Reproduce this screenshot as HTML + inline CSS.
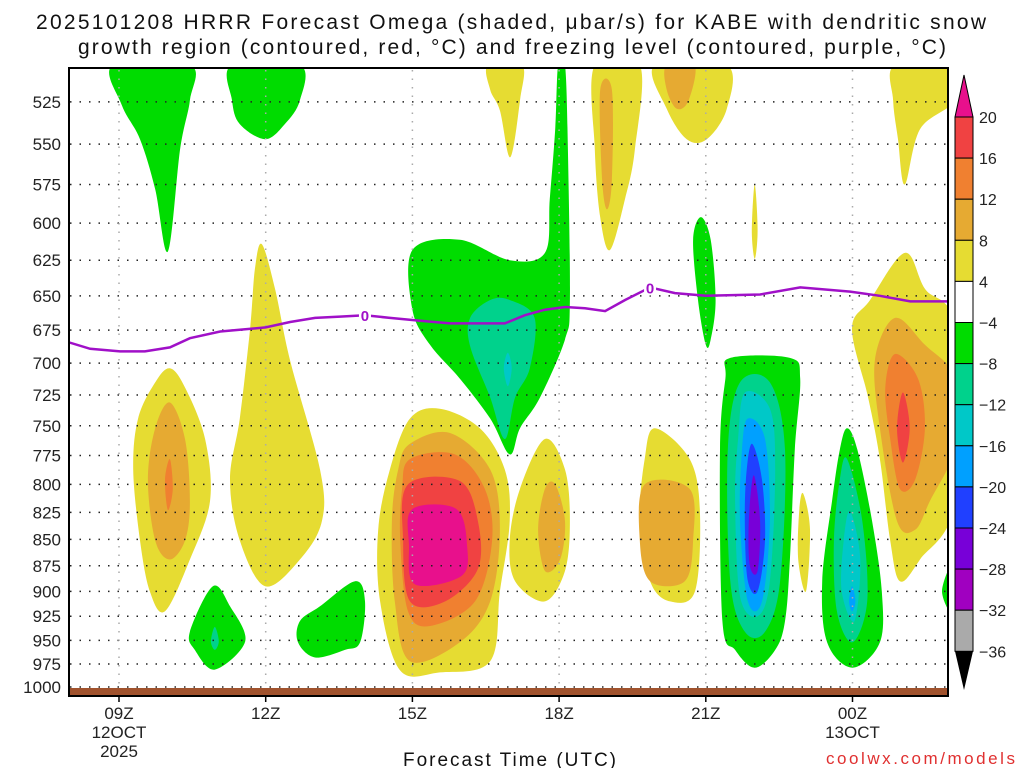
<!DOCTYPE html>
<html><head><meta charset="utf-8">
<style>
html,body{margin:0;padding:0;background:#fff;}
body{width:1024px;height:768px;overflow:hidden;font-family:"Liberation Sans","DejaVu Sans",sans-serif;}
svg text{font-family:"Liberation Sans","DejaVu Sans",sans-serif;}
</style></head>
<body>
<svg id="chart" width="1024" height="768" viewBox="0 0 1024 768" xmlns="http://www.w3.org/2000/svg">
<text x="36" y="29" font-size="21" textLength="950" lengthAdjust="spacing" fill="#111">2025101208 HRRR Forecast Omega (shaded, μbar/s) for KABE with dendritic snow</text>
<text x="78" y="54" font-size="21" textLength="868" lengthAdjust="spacing" fill="#111">growth region (contoured, red, °C) and freezing level (contoured, purple, °C)</text>
<defs><clipPath id="plotclip"><rect x="69" y="68" width="879" height="628"/></clipPath></defs>
<g id="fills" clip-path="url(#plotclip)"></g>
<g id="grid"></g>
<g id="ground"></g>
<g id="frz" clip-path="url(#plotclip)"></g>
<rect x="69" y="68" width="879" height="628" fill="none" stroke="#000" stroke-width="2"/>
<g id="yaxis"></g>
<g id="xaxis"></g>
<text x="403" y="766" font-size="19" textLength="213" lengthAdjust="spacing" fill="#111">Forecast Time (UTC)</text>
<text x="826" y="764" font-size="17" textLength="189" lengthAdjust="spacing" fill="#e03030">coolwx.com/models</text>
<g id="cbar"></g>
</svg>
<script>
// ---- data ----
const pressureTicks = [525,550,575,600,625,650,675,700,725,750,775,800,825,850,875,900,925,950,975,1000];
const timeTicks = [9,12,15,18,21,24];
const timeLabels = ["09Z","12Z","15Z","18Z","21Z","00Z"];
const timeSubLabels = ["12OCT","","","","","13OCT"];
const timeSub2Labels = ["2025","","","","",""];
const cbarLevels = [20,16,12,8,4,-4,-8,-12,-16,-20,-24,-28,-32,-36];
const cbarColors = ["#f04242","#f08030","#e6aa32","#e6dc32","#ffffff","#00dc00","#00d28c","#00c8c8","#00a0ff","#2040ff","#7800d8","#a000c0","#aaaaaa"];
const levelColors = {p4:"#e6dc32",p8:"#e6aa32",p12:"#f08030",p16:"#f04242",p20:"#e8108c",
  n4:"#00dc00",n8:"#00d28c",n12:"#00c8c8",n16:"#00a0ff",n20:"#2040ff",n24:"#7800d8",n28:"#a000c0"};
// blobs: level + polygon in [hour, hPa]
const blobLevel = ["n4","n4","p4","p4","p8","p12","n4","n8","n4",
 "p4","p8","p12","p16","p20",
 "n4","n8","n12","p4","p4","p8","p4","p8","p4","p8","n4","p4","p4","p8",
 "n4","n8","n12","n16","n20","n24","p4",
 "n4","n8","n12","n16",
 "p4","p4","p8","p12","p16","n4"];
const blobShape = [
 [[8.88,504],[10.45,504],[10.45,524],[10.25,553],[10.0,619],[9.74,578],[9.43,547],[9.06,527]],
 [[11.31,504],[12.7,504],[12.7,524],[12.39,538],[11.99,547],[11.47,538],[11.31,524]],
 [[11.92,614],[12.19,645],[12.5,698],[13.11,787],[13.15,833],[12.7,869],[11.99,895],[11.47,851],[11.27,796],[11.47,744],[11.68,674],[11.78,631]],
 [[10.04,704],[10.35,719],[10.76,761],[10.86,815],[10.45,869],[9.94,920],[9.63,900],[9.43,851],[9.29,787],[9.39,744],[9.74,715]],
 [[10.04,731],[10.35,761],[10.45,815],[10.35,851],[10.04,869],[9.74,851],[9.59,796],[9.74,752]],
 [[10.04,778],[10.1,804],[10.0,823],[9.94,796]],
 [[10.92,895],[11.27,915],[11.58,951],[10.96,981],[10.55,960],[10.45,941]],
 [[10.96,936],[11.04,951],[10.96,960],[10.88,951]],
 [[13.83,890],[14.03,910],[13.93,952],[13.62,960],[13.01,968],[12.66,952],[12.7,930],[13.11,915]],
 [[14.95,744],[15.56,736],[16.38,752],[16.89,787],[16.99,833],[16.79,900],[16.59,972],[15.56,984],[14.75,982],[14.34,910],[14.3,841],[14.54,787]],
 [[14.95,765],[15.77,756],[16.59,787],[16.79,841],[16.59,910],[15.97,952],[14.95,972],[14.64,910],[14.58,833],[14.71,787]],
 [[14.95,778],[15.87,774],[16.48,804],[16.63,851],[16.28,910],[15.36,935],[14.91,920],[14.75,851],[14.79,804]],
 [[14.91,800],[15.97,797],[16.34,833],[16.34,878],[15.67,910],[14.95,910],[14.81,851]],
 [[15.0,822],[15.9,822],[16.12,857],[16.0,885],[15.05,893],[14.93,855]],
 [[15.0,618],[15.97,611],[16.99,625],[17.71,620],[17.81,584],[17.92,541],[17.98,504],[18.12,504],[18.18,553],[18.22,653],[18.12,682],[17.61,727],[17.2,752],[16.99,774],[16.59,744],[15.97,712],[15.36,686],[15.0,660]],
 [[16.59,653],[16.99,653],[17.5,666],[17.4,704],[17.1,727],[16.89,761],[16.59,727],[16.18,687],[16.18,666]],
 [[16.95,692],[17.03,704],[16.95,718],[16.87,704]],
 [[16.55,504],[17.24,504],[17.2,524],[17.0,558],[16.79,530],[16.59,518]],
 [[17.71,761],[18.12,787],[18.22,833],[18.12,880],[17.71,910],[17.1,890],[16.99,851],[17.2,804]],
 [[17.92,800],[18.12,833],[18.02,869],[17.71,880],[17.57,841],[17.71,804]],
 [[18.73,504],[19.65,504],[19.55,553],[19.35,584],[19.04,618],[18.84,596],[18.73,553]],
 [[18.84,518],[19.08,518],[19.08,572],[18.98,591],[18.88,572]],
 [[19.96,504],[21.43,504],[21.43,529],[21.02,547],[20.61,547],[20.2,529]],
 [[20.2,504],[20.77,504],[20.65,524],[20.41,529],[20.2,518]],
 [[20.9,596],[21.1,611],[21.2,653],[21.1,682],[21.0,686],[20.84,653],[20.74,611]],
 [[22.0,575],[22.06,605],[22.0,624],[21.94,605]],
 [[19.96,752],[20.67,778],[20.88,824],[20.78,900],[20.27,910],[19.86,890],[19.65,833],[19.75,778]],
 [[19.75,800],[20.67,804],[20.74,851],[20.57,890],[19.86,890],[19.65,851]],
 [[21.5,696],[22.72,696],[22.93,712],[22.82,770],[22.72,869],[22.62,930],[22.42,960],[22.0,979],[21.6,960],[21.34,930],[21.29,770],[21.4,712]],
 [[21.7,715],[22.31,715],[22.62,770],[22.52,890],[22.21,941],[21.8,941],[21.5,890],[21.45,770]],
 [[21.8,723],[22.31,736],[22.42,787],[22.31,890],[22.06,925],[21.7,905],[21.6,815],[21.66,761]],
 [[21.86,744],[22.21,761],[22.31,833],[22.15,910],[21.86,910],[21.7,833],[21.74,770]],
 [[21.94,765],[22.15,796],[22.21,851],[22.06,900],[21.86,890],[21.8,841],[21.82,796]],
 [[21.98,792],[22.11,833],[22.06,880],[21.9,875],[21.88,833]],
 [[22.99,808],[23.13,841],[23.05,900],[22.89,869],[22.91,824]],
 [[23.89,752],[24.1,770],[24.4,833],[24.6,900],[24.56,952],[24.0,979],[23.48,952],[23.38,890],[23.58,815],[23.74,770]],
 [[23.89,778],[24.2,833],[24.3,910],[24.0,952],[23.68,920],[23.62,851],[23.74,796]],
 [[23.95,824],[24.16,869],[24.04,930],[23.78,900],[23.82,851]],
 [[23.99,895],[24.06,910],[23.99,920],[23.93,910]],
 [[24.87,504],[26.1,504],[26.1,524],[25.38,541],[25.07,575],[24.93,547],[24.83,524]],
 [[25.07,620],[25.48,645],[26.1,674],[26.1,815],[25.38,869],[24.97,890],[24.77,851],[24.56,778],[24.32,727],[23.99,674],[24.36,653]],
 [[24.87,666],[25.48,686],[26.1,712],[26.1,768],[25.58,815],[25.28,841],[24.91,833],[24.56,752],[24.46,697]],
 [[24.87,693],[25.34,712],[25.48,752],[25.28,796],[24.97,804],[24.77,761],[24.67,719]],
 [[25.03,723],[25.17,752],[25.03,781],[24.91,752]],
 [[26.1,870],[25.83,900],[26.1,925]]
];
const frzTime = [7.96,8.41,9.02,9.53,10.04,10.45,11.07,12,12.5,13.01,13.52,14.03,14.54,15.16,15.77,16.38,16.89,17.3,17.71,18.12,18.53,18.94,19.35,19.86,20.37,21,22.11,22.93,23.95,24.56,25.18,25.95];
const frzPres = [684,689,691,691,688,681,676,673,669,666,665,664,666,668,670,670,670,664,660,658,659,661,653,644,648,650,649,644,647,650,654,654];
const frzLabelTime = [14.03,19.86];
const frzLabelText = ["0","0"];

// ---- axes ----
const X0=119, PXH=48.9;
function xs(h){return X0+(h-9)*PXH;}
function ys(p){return 687-908*Math.log(1000/p);}
const NS="http://www.w3.org/2000/svg";
function mk(tag,attrs,parent){const e=document.createElementNS(NS,tag);for(const k in attrs)e.setAttribute(k,attrs[k]);parent.appendChild(e);return e;}
function smooth(pts){
  const n=pts.length;let d=`M${pts[0][0].toFixed(1)},${pts[0][1].toFixed(1)}`;
  for(let i=0;i<n;i++){
    const p0=pts[(i-1+n)%n],p1=pts[i],p2=pts[(i+1)%n],p3=pts[(i+2)%n];
    const c1=[p1[0]+(p2[0]-p0[0])/6,p1[1]+(p2[1]-p0[1])/6];
    const c2=[p2[0]-(p3[0]-p1[0])/6,p2[1]-(p3[1]-p1[1])/6];
    d+=`C${c1[0].toFixed(1)},${c1[1].toFixed(1)} ${c2[0].toFixed(1)},${c2[1].toFixed(1)} ${p2[0].toFixed(1)},${p2[1].toFixed(1)}`;
  }
  return d+"Z";
}
const fills=document.getElementById('fills');
blobShape.forEach((shape,i)=>{
  const pts=shape.map(q=>[xs(q[0]),ys(q[1])]);
  const el=mk('path',{d:smooth(pts),fill:levelColors[blobLevel[i]]},fills);
  
  
});
// grid
const grid=document.getElementById('grid');
pressureTicks.forEach(p=>{
  const el=mk('line',{x1:70,x2:947,y1:ys(p),y2:ys(p),stroke:'#222','stroke-width':1.5,'stroke-dasharray':'1.5 8'},grid);
  
  
});
timeTicks.forEach(t=>{
  const el=mk('line',{x1:xs(t),x2:xs(t),y1:70,y2:687,stroke:'#aaa','stroke-width':1.5,'stroke-dasharray':'1.5 7'},grid);
  
  
});
// ground
const gEl=mk('rect',{x:70,y:688,width:877,height:7,fill:'#a0522d'},document.getElementById('ground'));


// freezing line
const frz=document.getElementById('frz');
let d='';frzTime.forEach((t,i)=>{d+=(i?'L':'M')+xs(t).toFixed(1)+','+ys(frzPres[i]).toFixed(1);});
const fl=mk('path',{d:d,fill:'none',stroke:'#a010c8','stroke-width':2.5},frz);


frzLabelTime.forEach((t,i)=>{
  let j=0;while(j<frzTime.length-2&&frzTime[j+1]<t)j++;
  const f=(t-frzTime[j])/(frzTime[j+1]-frzTime[j]);
  const p=frzPres[j]+f*(frzPres[j+1]-frzPres[j]);
  const r=mk('rect',{x:xs(t)-6,y:ys(p)-8,width:12,height:16,fill:'#fff'},frz);
  
  
  const tx=mk('text',{x:xs(t),y:ys(p)+6,'font-size':15,'font-weight':'bold','text-anchor':'middle',fill:'#a010c8'},frz);
  tx.textContent=frzLabelText[i];
  
  
});
// y axis
const ya=document.getElementById('yaxis');
pressureTicks.forEach(p=>{
  const t=mk('text',{x:61,y:ys(p)+6,'font-size':17,'text-anchor':'end',fill:'#222'},ya);
  t.textContent=p;
  
  
});
// x axis
const xa=document.getElementById('xaxis');
timeTicks.forEach((h,i)=>{
  const tk=mk('line',{x1:xs(h),x2:xs(h),y1:696,y2:702,stroke:'#000','stroke-width':1.5},xa);
  
  
  [timeLabels[i],timeSubLabels[i],timeSub2Labels[i]].forEach((s,k)=>{
    if(!s)return;
    const t=mk('text',{x:xs(h),y:719+k*19,'font-size':17,'text-anchor':'middle',fill:'#222'},xa);
    t.textContent=s;
    
    
  });
});
// colorbar
const cb=document.getElementById('cbar');
const CB_X=955,CB_W=18,CB_TOP=117,CB_STEP=41.1;
cbarColors.forEach((c,i)=>{
  const r=mk('rect',{x:CB_X,y:CB_TOP+i*CB_STEP,width:CB_W,height:CB_STEP,fill:c,stroke:'#000','stroke-width':1},cb);
  
  
});
const bot=CB_TOP+cbarColors.length*CB_STEP;
const tu=mk('polygon',{points:`${CB_X},${CB_TOP} ${CB_X+CB_W},${CB_TOP} ${CB_X+CB_W/2},75`,fill:'#e8108c',stroke:'#000','stroke-width':1},cb);


const td=mk('polygon',{points:`${CB_X},${bot} ${CB_X+CB_W},${bot} ${CB_X+CB_W/2},690`,fill:'#000'},cb);


cbarLevels.forEach((v,i)=>{
  const t=mk('text',{x:979,y:CB_TOP+i*CB_STEP+6,'font-size':16,fill:'#222'},cb);
  t.textContent=v<0?'\u2212'+(-v):String(v);
  
  
});
</script>
</body></html>
